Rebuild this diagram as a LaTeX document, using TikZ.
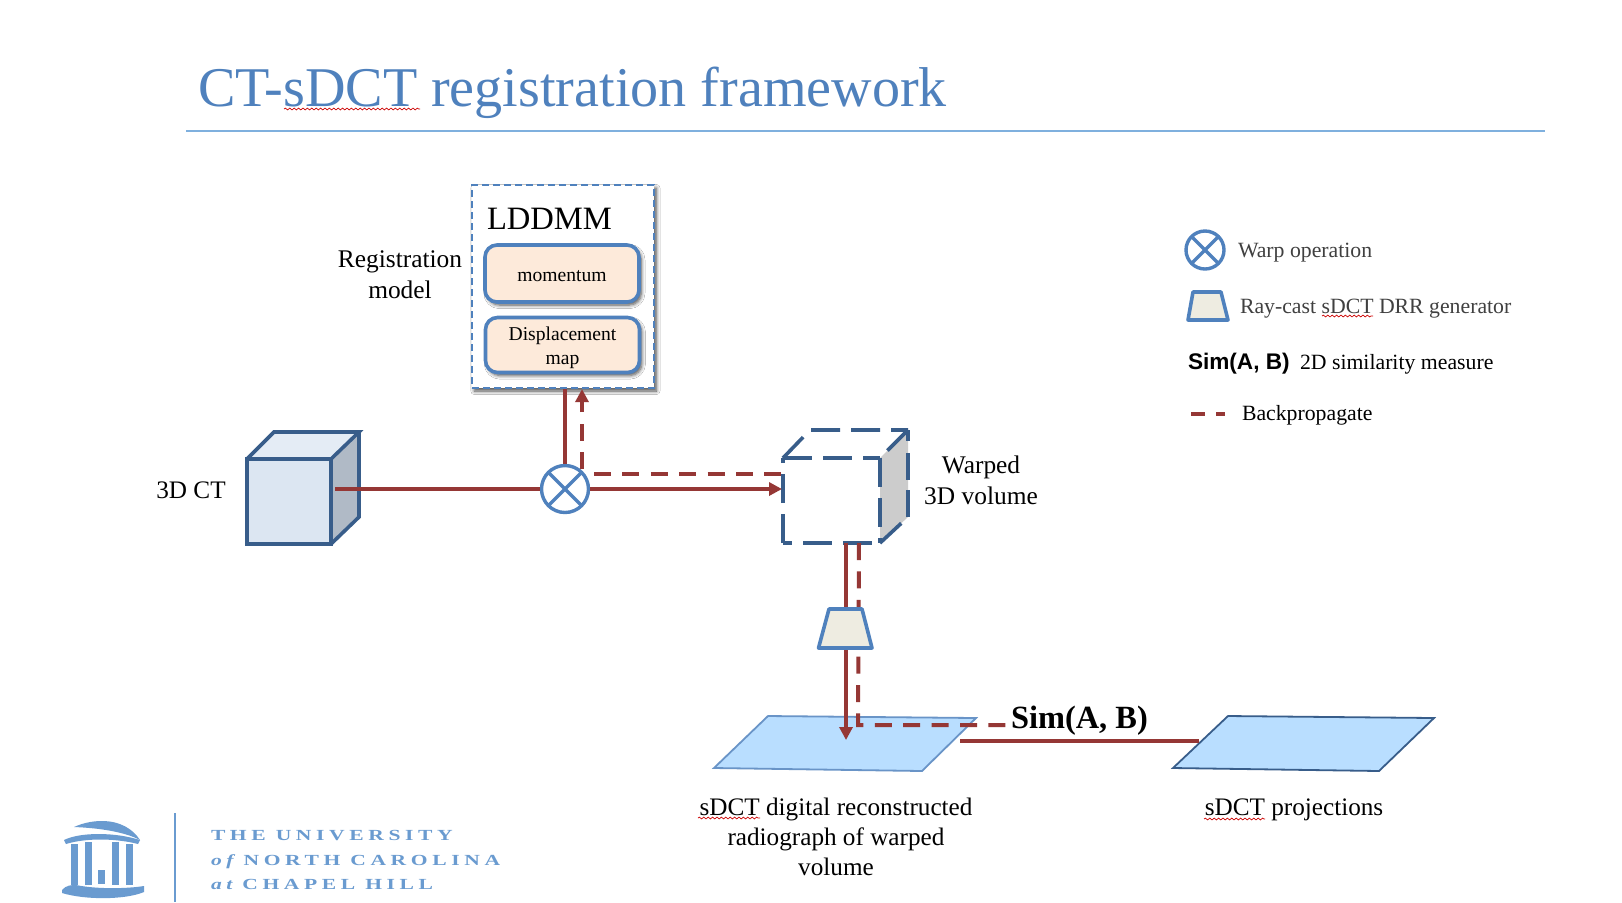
\documentclass[tikz,border=0pt]{standalone}
\usepackage{fontspec}
\setmainfont{Liberation Serif}
\setsansfont{Liberation Sans}
\newfontfamily\logofont[LetterSpace=30,FakeStretch=1.4]{Liberation Serif}
\usetikzlibrary{arrows.meta,shadows,shadows.blur,decorations.pathmorphing,calc}
\definecolor{titleblue}{HTML}{4F81BD}
\definecolor{ruleblue}{HTML}{7FB0DE}
\definecolor{nodeblue}{HTML}{4F81BD}
\definecolor{cubeblue}{HTML}{385D8A}
\definecolor{wire}{HTML}{953735}
\definecolor{peach}{HTML}{FDEADA}
\definecolor{sheet}{HTML}{B9DEFF}
\definecolor{logoblue}{HTML}{6A9BD0}
\definecolor{ctfront}{HTML}{DCE6F2}
\definecolor{cttop}{HTML}{E4ECF5}
\definecolor{ctside}{HTML}{B0BAC6}
\definecolor{genfill}{HTML}{EEECE1}
\definecolor{darktext}{HTML}{404040}
\newcommand{\lowered}[1]{\raisebox{-1.3pt}[\height][\depth]{#1}}
\tikzset{
  x=0.5pt,y=-0.5pt,
  txt/.style={inner sep=0pt,outer sep=0pt,anchor=base west,font=\fontsize{#1}{#1}\selectfont},
  lbl/.style={inner sep=0pt,outer sep=0pt,align=center,font=\fontsize{12.6}{15}\selectfont},
  solidwire/.style={draw=wire,line width=2pt},
  dashwire/.style={draw=wire,line width=2pt,dash pattern=on 8.5pt off 5.7pt},
  tip/.style={-{Triangle[width=6.5pt,length=6.5pt]}},
  softshadow/.style={blur shadow={shadow xshift=1.2pt,shadow yshift=-1.5pt,shadow blur radius=1.8pt,shadow blur steps=6,shadow opacity=70}},
  innerbox/.style={rectangle,draw=nodeblue,line width=1.8pt,fill=peach,rounded corners=6pt,softshadow,inner sep=0pt,align=center,
    minimum width=77pt,font=\fontsize{9.8}{12}\selectfont},
  warpcircle/.style={circle,draw=nodeblue,line width=1.7pt,fill=white,inner sep=0pt,path picture={
    \draw[nodeblue,line width=1.7pt] (path picture bounding box.north west) -- (path picture bounding box.south east)
      (path picture bounding box.north east) -- (path picture bounding box.south west);}},
  cubeline/.style={draw=cubeblue,line width=1.8pt,line join=miter},
  cubedash/.style={draw=cubeblue,line width=1.8pt,dash pattern=on 14.5pt off 5.5pt},
  genbox/.style={draw=nodeblue,line width=1.8pt,fill=genfill,line join=round},
  squiggle/.style={draw=red!80!black,line width=.35pt,decorate,decoration={snake,segment length=2.2pt,amplitude=.45pt}},
  colm/.style={fill=logoblue},
  logotext/.style={inner sep=0pt,outer sep=0pt,anchor=base west,text=logoblue,font=\logofont\bfseries\fontsize{7.7}{7.7}\selectfont},
}
\begin{document}
\begin{tikzpicture}
\useasboundingbox[fill=white] (0,0) rectangle (1622,902);

% title
\node[txt=28.05,text=titleblue] (title) at (198,106) {CT-sDCT registration framework};
\draw[squiggle] (284,109) -- (420,109);
\draw[ruleblue,line width=.7pt] (186,131) -- (1545,131);

% CT cube
\coordinate (ctA) at (247,459);\coordinate (ctB) at (331,459);\coordinate (ctC) at (331,544);\coordinate (ctD) at (247,544);
\coordinate (ctE) at (274,432);\coordinate (ctF) at (359,432);\coordinate (ctG) at (359,517);
\coordinate (ctOut) at (335,489);
\fill[ctfront] (ctA) -- (ctB) -- (ctC) -- (ctD) -- cycle;
\fill[cttop] (ctA) -- (ctE) -- (ctF) -- (ctB) -- cycle;
\fill[ctside] (ctB) -- (ctF) -- (ctG) -- (ctC) -- cycle;
\draw[cubeline] (ctA) -- (ctB) -- (ctC) -- (ctD) -- cycle (ctA) -- (ctE) -- (ctF) -- (ctB) (ctF) -- (ctG) -- (ctC);
\node[lbl] (ctlabel) at (191,490) {3D CT};

% warp operation
\node[warpcircle,minimum size=23.5pt] (warp) at (565,489) {};

% LDDMM container
\node[rectangle,draw=nodeblue,line width=1.1pt,dash pattern=on 3.5pt off 2pt,fill=white,softshadow,minimum width=91pt,minimum height=101.5pt,inner sep=0pt] (lddmm) at (563,286.5) {};
\node[txt=16.3] (lddmmtitle) at (487,229) {LDDMM};
\node[innerbox,minimum height=28.5pt] (momentum) at (562,273.5) {\lowered{momentum}};
\node[innerbox,minimum height=27.5pt] (disp) at (562.5,345) {\lowered{Displacement}\\\lowered{map}};
\node[lbl,font=\fontsize{12.7}{15.5}\selectfont] (regmodel) at (400,275) {Registration\\model};

% warped cube
\coordinate (wA) at (783,458);\coordinate (wB) at (880,458);\coordinate (wC) at (880,543);\coordinate (wD) at (783,543);
\coordinate (wE) at (810,430);\coordinate (wF) at (908,430);\coordinate (wG) at (908,517);
\coordinate (wR1) at (908,441);\coordinate (wR2) at (908,453);\coordinate (wR3) at (908,480);\coordinate (wR4) at (908,490);
\fill[black!20] (wB) -- (wF) -- (wG) -- (wC) -- cycle;
\draw[cubedash] (wA) -- (wB);
\draw[cubedash,dash phase=10pt] (wD) -- (wC);
\draw[cubedash] (wB) -- (wC);
\draw[cubedash] (wD) -- (wA);
\draw[cubedash] (wA) -- (wE) -- (wF);
\draw[cubedash] (wF) -- (wB);
\draw[cubeline] (wF) -- (wR1) (wR2) -- (wR3) (wR4) -- (wG);
\draw[cubedash] (wC) -- (wG);
\coordinate (wIn) at (782,489);
\coordinate (wBack) at (783,474);
\coordinate (wBotSolid) at (846,543);
\coordinate (wBotDash) at (859,543);
\node[lbl,font=\fontsize{12.7}{15.5}\selectfont] (warped) at (981,480) {Warped\\3D volume};

% wires around warp
\coordinate (backUp) at (582,469);
\coordinate (backStart) at (594,474);
\draw[solidwire] (ctOut) -- (warp.west);
\draw[solidwire] (warp.north) -- (warp.north |- lddmm.south);
\draw[solidwire,tip] (warp.east) -- (wIn);
\draw[dashwire,tip] (backUp) -- (backUp |- lddmm.south);
\draw[dashwire] (backStart) -- (wBack);

% sheets
\coordinate (s1a) at (714,768);\coordinate (s1b) at (768,716);\coordinate (s1c) at (976,718);\coordinate (s1d) at (922,771);
\coordinate (s2a) at (1173,768);\coordinate (s2b) at (1228,716);\coordinate (s2c) at (1434,718);\coordinate (s2d) at (1379,771);
\path[fill=sheet,draw=nodeblue!85!white,line width=.9pt] (s1a) -- (s1b) -- (s1c) -- (s1d) -- cycle;
\path[fill=sheet,draw=cubeblue,line width=.9pt] (s2a) -- (s2b) -- (s2c) -- (s2d) -- cycle;

% generator and vertical wires
\coordinate (arrowEnd) at (846,740);
\coordinate (dashCorner) at (858,725);
\coordinate (simIn) at (1006,725);
\coordinate (simLeft) at (960,741);
\coordinate (simRight) at (1199,741);
\draw[solidwire,tip] (wBotSolid) -- (arrowEnd);
\draw[dashwire] (wBotDash) -- (dashCorner) -- (simIn);
\draw[solidwire] (simLeft) -- (simRight);
\path[genbox] (829,609) -- (862,609) -- (872,648) -- (818.5,648) -- cycle;
\node[txt=16.2,font=\fontsize{16.2}{16.2}\selectfont\bfseries] (sim) at (1011,728) {Sim(A, B)};

% sheet captions
\node[lbl] (cap1) at (836,837) {sDCT digital reconstructed\\radiograph of warped\\volume};
\draw[squiggle] (698,818) -- (760,818);
\node[lbl] (cap2) at (1294,810) {sDCT projections};
\draw[squiggle] (1204,819) -- (1265,819);

% legend
\node[warpcircle,minimum size=19pt] (legwarp) at (1205,250) {};
\node[txt=10.88,text=darktext] (legwarptxt) at (1238,257) {Warp operation};
\path[genbox] (1193,292) -- (1221,292) -- (1228,320) -- (1188,320) -- cycle;
\node[txt=10.88,text=darktext] (legray) at (1240,313) {Ray-cast sDCT DRR generator};
\draw[squiggle] (1322,316) -- (1373,316);
\node[txt=11.3,font=\fontsize{11.3}{11.3}\selectfont\sffamily\bfseries] (legsim) at (1188,369) {Sim(A, B)};
\node[txt=10.88] (legsimtxt) at (1300,369) {2D similarity measure};
\coordinate (legd1) at (1191,414);\coordinate (legd2) at (1225,414);
\draw[wire,line width=2pt,dash pattern=on 7pt off 5.5pt] (legd1) -- (legd2);
\node[txt=10.88] (legback) at (1242,420) {Backpropagate};

% logo
\draw[logoblue,line width=.8pt] (175,813) -- (175,902);
\fill[logoblue] (74,827) .. controls (85,822) and (95,821) .. (102,821) .. controls (120,821) and (133,829) .. (140,840) .. controls (125,832) and (100,828) .. (74,827) -- cycle;
\fill[logoblue] (64,840) .. controls (80,832) and (115,832) .. (140,840) -- (138,844) .. controls (115,838) and (85,838) .. (66,844) -- cycle;
\fill[colm] (71,844) rectangle (78,885);
\fill[colm] (85,842) rectangle (92,885);
\fill[colm] (112,842) rectangle (119,885);
\fill[colm] (126,844) rectangle (133,885);
\fill[colm] (98,870) rectangle (105,884);
\fill[logoblue] (62,890) .. controls (66,885) and (72,885) .. (76,885) .. controls (95,889) and (125,889) .. (144,886) -- (144,892) .. controls (125,900) and (85,900) .. (62,893) -- cycle;
\node[logotext] (logo1) at (211,840) {THE UNIVERSITY};
\node[logotext] (logo2) at (211,865) {{\itshape of} NORTH CAROLINA};
\node[logotext] (logo3) at (211,889) {{\itshape at} CHAPEL HILL};
\end{tikzpicture}
\end{document}
